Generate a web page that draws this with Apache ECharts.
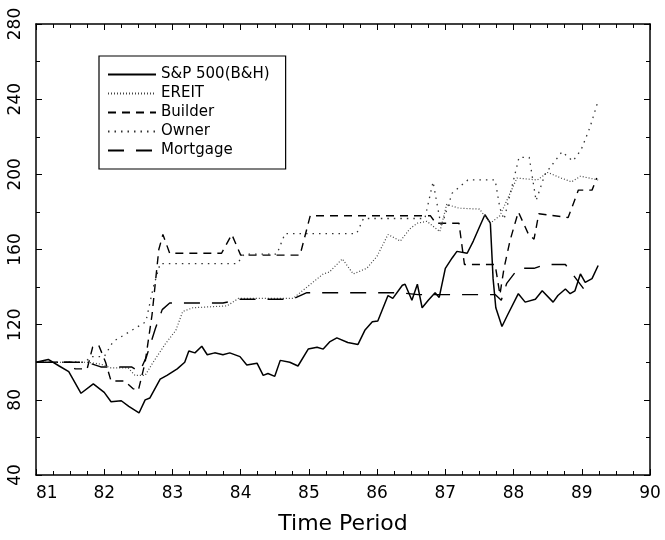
<!DOCTYPE html>
<html>
<head>
<meta charset="utf-8">
<script src="https://cdn.jsdelivr.net/npm/echarts@6/dist/echarts.min.js"></script>
<style>
  html, body { margin: 0; padding: 0; background: #fff; }
  #chart { width: 665px; height: 540px; }
</style>
</head>
<body>
<div id="chart"></div>
<script>
  // time in years (81 = 1981), values indexed to 100
  var tSP = [81.00,81.18,81.34,81.48,81.66,81.84,82.00,82.10,82.25,82.36,82.51,82.60,82.67,82.82,82.92,83.07,83.18,83.24,83.33,83.43,83.51,83.62,83.74,83.84,83.99,84.09,84.24,84.33,84.40,84.50,84.58,84.72,84.84,84.99,85.12,85.21,85.31,85.41,85.57,85.72,85.82,85.93,86.01,86.16,86.23,86.37,86.41,86.51,86.59,86.66,86.75,86.85,86.91,87.00,87.10,87.17,87.32,87.41,87.50,87.58,87.66,87.70,87.74,87.83,87.91,88.07,88.17,88.32,88.42,88.58,88.65,88.76,88.83,88.90,88.98,89.05,89.15,89.24]
  var vSP = [100,101.5,98,95,83.5,88.5,84,79,79.5,76.5,73,80,81,91,93,96.5,100,106,105,108.5,104,105,104,105,103,98.5,99.5,93,94,92.5,101,100,98,107,108,107,111,113,110.5,109.5,117,121.5,122,135.5,134,141,141.5,133,141.5,129,133,137,134.5,150,155.5,159,158,164.5,172,178.5,174,144.5,129,119,125,136.5,132,133.5,138,132,135.5,139,136.5,138,147,142.5,144.5,151.5]

  var tEreit = [81.00,81.75,81.95,82.10,82.35,82.45,82.60,82.70,82.90,83.05,83.15,83.30,83.80,83.97,84.77,84.87,85.21,85.30,85.49,85.65,85.85,86.00,86.16,86.34,86.48,86.59,86.73,86.92,87.02,87.20,87.50,87.66,87.80,88.05,88.35,88.50,88.70,88.85,88.98,89.24]
  var vEreit = [100,100,99,97,97,93,93,99,110,117,127,129,130,134,134,137,147,148,155,147,150,156.5,168,164.5,171,174,175,169.5,184,182,181.5,174,178,198,197,201,198,196,199,197]

  var tBuild = [81.00,81.52,81.57,81.75,81.83,81.92,82.02,82.10,82.30,82.42,82.50,82.60,82.70,82.80,82.86,82.96,83.72,83.87,84.00,84.87,85.02,86.78,86.86,87.20,87.28,87.73,87.80,87.86,87.95,88.07,88.22,88.30,88.37,88.80,88.95,89.15,89.22]
  var vBuild = [100,100,96.5,96.5,108,109,100,90,90,86,85,100,125,160,168,158,158,168,157,157,178,178,174,174,152,152,136,150,165,180,168,165.5,179,177,191.6,191.6,198]

  var tOwner = [81.00,81.72,81.80,82.00,82.13,82.61,82.72,82.82,83.95,84.05,84.53,84.65,85.70,85.80,86.70,86.82,86.94,87.10,87.33,87.73,87.80,87.86,88.08,88.23,88.33,88.46,88.71,88.87,88.99,89.12,89.23]
  var vOwner = [100,100,103,103,111,121.5,140,152.5,152.5,157.5,157.5,168.5,168.5,176.5,176.5,196,172,190,197,197,182,176,209,209,186,200,212,207,213,225,238]

  var tMort = [81.00,81.75,81.95,82.40,82.52,82.62,82.75,82.85,82.96,83.74,83.99,84.75,84.97,86.34,86.60,87.73,87.82,87.90,88.07,88.30,88.47,88.76,89.05]
  var vMort = [100,100,97.5,97.5,95,103,118,128,131.5,131.5,133.5,133.5,137,137,136,136,133,142,150,150,152,152,138]

  var names = ['S&P 500(B&H)', 'EREIT', 'Builder', 'Owner', 'Mortgage']

  function pairs(t, v) {
    return t.map(function (x, i) { return [x, v[i]] })
  }

  var font = 'DejaVu Sans'

  function lineSeries(name, t, v, color, width, type) {
    return {
      name: name,
      type: 'line',
      data: pairs(t, v),
      symbol: 'none',
      showSymbol: false,
      lineStyle: { color: color, width: width, type: type },
      itemStyle: { color: color },
      animation: false
    }
  }

  var axisLine = { show: true, lineStyle: { color: '#000', width: 1.5 } }
  var tick = { inside: true, length: 6, lineStyle: { color: '#000' } }

  var chart = echarts.init(document.getElementById('chart'))
  chart.setOption({
    backgroundColor: '#fff',
    animation: false,
    grid: { left: 36, right: 15, top: 24, bottom: 57 },
    legend: {
      orient: 'vertical',
      left: 99,
      top: 56,
      data: names,
      itemWidth: 48,
      itemHeight: 14,
      itemGap: 4,
      padding: [11, 16, 11, 8],
      borderColor: '#000',
      borderWidth: 1.2,
      itemStyle: { opacity: 0 },
      textStyle: { fontFamily: font, fontSize: 15, color: '#000', lineHeight: 14 }
    },
    xAxis: [
      {
        type: 'value', min: 81, max: 90, interval: 1, position: 'bottom',
        name: 'Time Period', nameLocation: 'middle', nameGap: 38,
        nameTextStyle: { fontFamily: font, fontSize: 22, color: '#000' },
        axisLine: axisLine,
        axisTick: tick,
        minorTick: { show: true, splitNumber: 4, length: 4, lineStyle: { color: '#000' } },
        axisLabel: { fontFamily: font, fontSize: 17, color: '#000', margin: 10, alignMinLabel: 'left' },
        splitLine: { show: false }
      },
      {
        type: 'value', min: 81, max: 90, interval: 1, position: 'top',
        axisLine: axisLine,
        axisTick: tick,
        minorTick: { show: true, splitNumber: 4, length: 4, lineStyle: { color: '#000' } },
        axisLabel: { show: false },
        splitLine: { show: false }
      }
    ],
    yAxis: [
      {
        type: 'value', min: 40, max: 280, interval: 40, position: 'left',
        axisLine: axisLine,
        axisTick: tick,
        minorTick: { show: true, splitNumber: 2, length: 4, lineStyle: { color: '#000' } },
        axisLabel: { fontFamily: font, fontSize: 17, color: '#000', rotate: 90, margin: 12 },
        splitLine: { show: false }
      },
      {
        type: 'value', min: 40, max: 280, interval: 40, position: 'right',
        axisLine: axisLine,
        axisTick: tick,
        minorTick: { show: true, splitNumber: 2, length: 4, lineStyle: { color: '#000' } },
        axisLabel: { show: false },
        splitLine: { show: false }
      }
    ],
    series: [
      lineSeries(names[0], tSP, vSP, '#000', 1.5, 'solid'),
      lineSeries(names[1], tEreit, vEreit, '#444', 1.2, [1, 2]),
      lineSeries(names[2], tBuild, vBuild, '#000', 1.4, [8, 6]),
      lineSeries(names[3], tOwner, vOwner, '#333', 1.3, [1.5, 5]),
      lineSeries(names[4], tMort, vMort, '#000', 1.4, [16, 12])
    ]
  })
</script>
</body>
</html>
